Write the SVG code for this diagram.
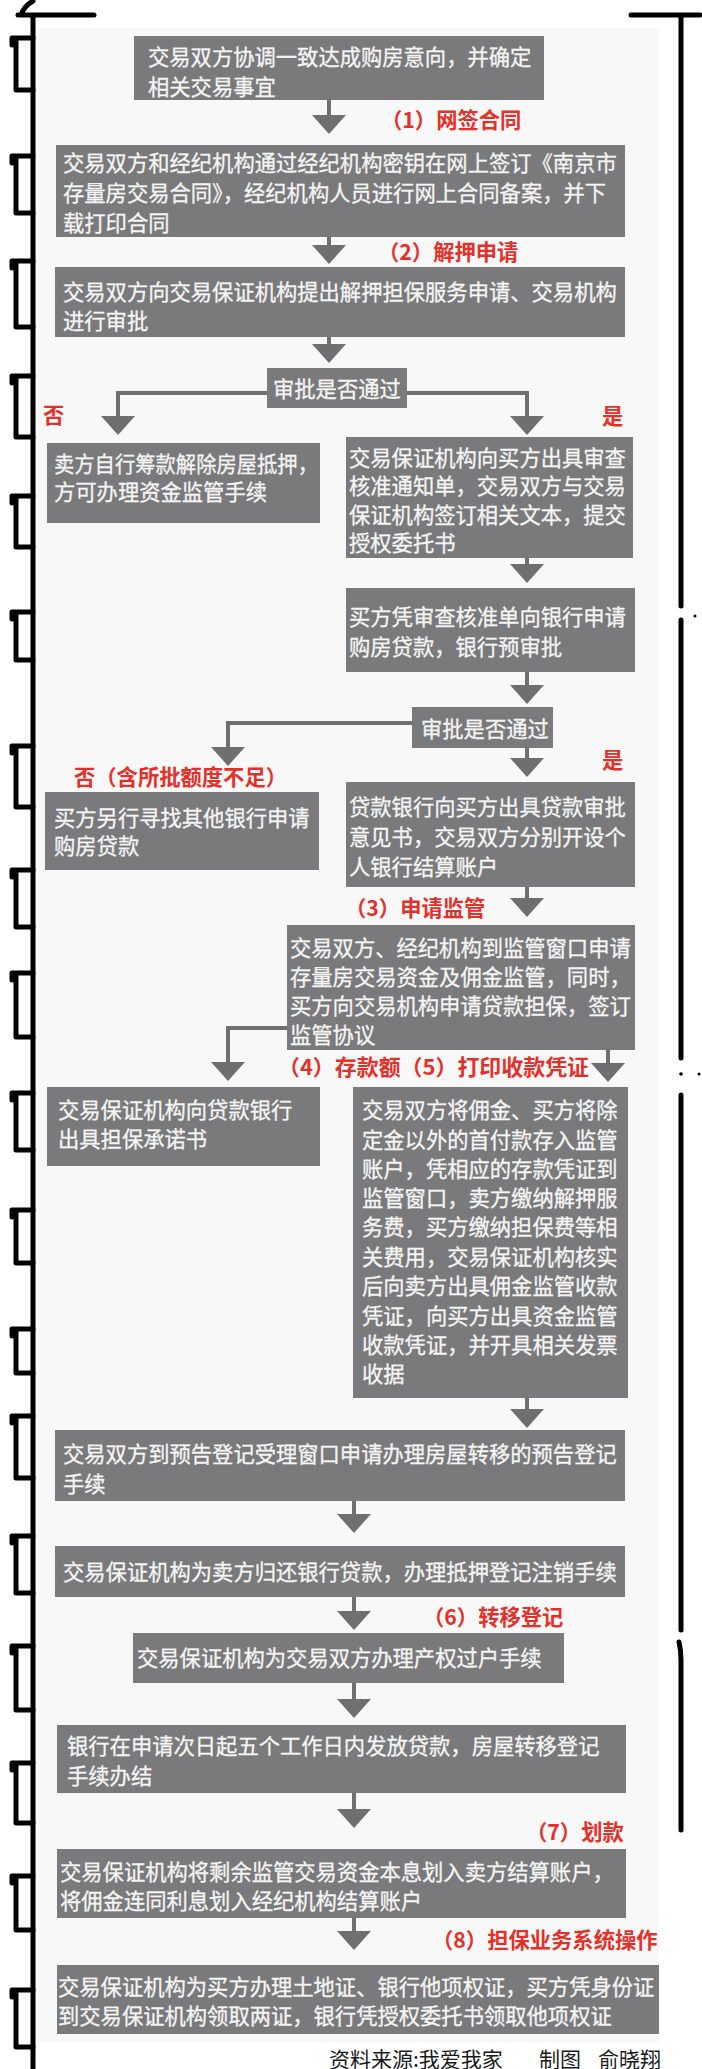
<svg xmlns="http://www.w3.org/2000/svg" width="702" height="2069" viewBox="0 0 702 2069">
  <style>
    .box { fill: #7a7a7c; }
    .t { font-family: "Noto Sans CJK SC", "Noto Sans", sans-serif; font-size: 21.3px; fill: #f5f5f5; stroke: #f5f5f5; stroke-width: 0.3; }
    .red { font-family: "Noto Sans CJK SC", "Noto Sans", sans-serif; font-size: 21.3px; font-weight: bold; fill: #e5302a; }
    .foot { font-family: "Noto Sans CJK SC", "Noto Sans", sans-serif; font-size: 21px; fill: #1a1a1a; }
    .conn { fill: none; stroke: #6f6f71; stroke-width: 4; marker-end: url(#head); }
    .ink { fill: none; stroke: #000; stroke-width: 5; stroke-linecap: round; stroke-linejoin: round; }
  </style>
  <defs>
    <marker id="head" viewBox="0 -17 19 34" markerWidth="19" markerHeight="34" refX="0" refY="0" orient="auto" markerUnits="userSpaceOnUse">
      <path d="M0,-17 L19,0 L0,17 Z" fill="#6f6f71"/>
    </marker>
  </defs>

  <rect width="702" height="2069" fill="#ffffff"/>
  <rect x="38" y="28" width="621" height="2014" fill="#f8f8f8"/>

  <!-- hand-drawn binding frame -->
  <g id="frame">
    <path class="ink" d="M33,16 V2069"/>
    <path class="ink" stroke-width="6" d="M18,15 H94 M21,15 Q24,6 33,1"/>
    <path class="ink" stroke-width="5" d="M631,15 H700"/>
    <path class="ink" stroke-width="5.5" d="M681,16 V606"/>
    <path class="ink" stroke-width="5.5" d="M681,620 V1058"/>
    <path class="ink" stroke-width="5.5" d="M681,1095 V1630"/>
    <path class="ink" stroke-width="5.5" d="M679,1642 Q681,1650 681,1660 V1830"/>
    <circle cx="681" cy="1074" r="1.8" fill="#000"/>
    <circle cx="699" cy="1074" r="1.5" fill="#000"/>
    <circle cx="695" cy="616" r="1.5" fill="#000"/>
    <g id="loops">
      <path class="ink" d="M33,38 H13 M16,38 V90 H33 M12,38 v7"/>
      <path class="ink" d="M33,156 H13 M16,156 V213 H33 M12,156 v7"/>
      <path class="ink" d="M33,261 H13 M16,261 V327 H33 M12,261 v7"/>
      <path class="ink" d="M33,376 H13 M16,376 V437 H33 M12,376 v7"/>
      <path class="ink" d="M33,496 H13 M16,496 V547 H33 M12,496 v7"/>
      <path class="ink" d="M33,612 H13 M16,612 V660 H33 M12,612 v7"/>
      <path class="ink" d="M33,746 H13 M16,746 V807 H33 M12,746 v7"/>
      <path class="ink" d="M33,870 H13 M16,870 V927 H33 M12,870 v7"/>
      <path class="ink" d="M33,973 H13 M16,973 V1037 H33 M12,973 v7"/>
      <path class="ink" d="M33,1093 H13 M16,1093 V1150 H33 M12,1093 v7"/>
      <path class="ink" d="M33,1210 H13 M16,1210 V1263 H33 M12,1210 v7"/>
      <path class="ink" d="M33,1329 H13 M16,1329 V1373 H33 M12,1329 v7"/>
      <path class="ink" d="M33,1416 H13 M16,1416 V1478 H33 M12,1416 v7"/>
      <path class="ink" d="M33,1536 H13 M16,1536 V1593 H33 M12,1536 v7"/>
      <path class="ink" d="M33,1646 H13 M16,1646 V1710 H33 M12,1646 v7"/>
      <path class="ink" d="M33,1763 H13 M16,1763 V1823 H33 M12,1763 v7"/>
      <path class="ink" d="M33,1876 H13 M16,1876 V1930 H33 M12,1876 v7"/>
      <path class="ink" d="M33,1990 H13 M16,1990 V2047 H33 M12,1990 v7"/>
    </g>
  </g>

  <!-- connectors -->
  <g id="connectors">
    <path class="conn" d="M329,100 V115"/>
    <path class="conn" d="M329,237 V245"/>
    <path class="conn" d="M329,337 V344"/>
    <path class="conn" d="M267,393 H118 V416"/>
    <path class="conn" d="M407,393 H527 V416"/>
    <path class="conn" d="M527,558 V564"/>
    <path class="conn" d="M527,672 V685"/>
    <path class="conn" d="M412,723 H228 V747"/>
    <path class="conn" d="M527,748 V758"/>
    <path class="conn" d="M527,887 V898"/>
    <path class="conn" d="M287,1028 H228 V1062"/>
    <path class="conn" d="M608,1050 V1063"/>
    <path class="conn" d="M527,1398 V1409"/>
    <path class="conn" d="M354,1501 V1514"/>
    <path class="conn" d="M354,1597 V1611"/>
    <path class="conn" d="M354,1683 V1699"/>
    <path class="conn" d="M354,1793 V1809"/>
    <path class="conn" d="M354,1918 V1931"/>
  </g>

  <!-- step labels -->
  <g id="labels">
    <text class="red" x="381" y="128">（1）网签合同</text>
    <text class="red" x="378" y="260">（2）解押申请</text>
    <text class="red" x="43" y="423">否</text>
    <text class="red" x="602" y="424">是</text>
    <text class="red" x="602" y="768">是</text>
    <text class="red" x="74" y="785">否（含所批额度不足）</text>
    <text class="red" x="345" y="916">（3）申请监管</text>
    <text class="red" x="278" y="1075" textLength="311" lengthAdjust="spacingAndGlyphs">（4）存款额（5）打印收款凭证</text>
    <text class="red" x="423" y="1625">（6）转移登记</text>
    <text class="red" x="526" y="1840">（7）划款</text>
    <text class="red" x="432" y="1948">（8）担保业务系统操作</text>
  </g>

  <g id="n1">
    <rect class="box" x="134" y="36" width="410" height="64"/>
    <text class="t" x="148" y="65">交易双方协调一致达成购房意向，并确定</text>
    <text class="t" x="148" y="95">相关交易事宜</text>
  </g>
  <g id="n2">
    <rect class="box" x="56" y="145" width="569" height="92"/>
    <text class="t" x="63" y="171">交易双方和经纪机构通过经纪机构密钥在网上签订《南京市</text>
    <text class="t" x="63" y="201">存量房交易合同》，经纪机构人员进行网上合同备案，并下</text>
    <text class="t" x="63" y="231">载打印合同</text>
  </g>
  <g id="n3">
    <rect class="box" x="55" y="267" width="570" height="70"/>
    <text class="t" x="63" y="300">交易双方向交易保证机构提出解押担保服务申请、交易机构</text>
    <text class="t" x="63" y="329">进行审批</text>
  </g>
  <g id="d1">
    <rect class="box" x="267" y="368" width="140" height="40"/>
    <text class="t" x="273" y="397">审批是否通过</text>
  </g>
  <g id="n4">
    <rect class="box" x="47" y="443" width="273" height="80"/>
    <text class="t" x="54" y="472" textLength="264" lengthAdjust="spacingAndGlyphs">卖方自行筹款解除房屋抵押，</text>
    <text class="t" x="54" y="500">方可办理资金监管手续</text>
  </g>
  <g id="n5">
    <rect class="box" x="346" y="437" width="287" height="121"/>
    <text class="t" x="349" y="466">交易保证机构向买方出具审查</text>
    <text class="t" x="349" y="494">核准通知单，交易双方与交易</text>
    <text class="t" x="349" y="523">保证机构签订相关文本，提交</text>
    <text class="t" x="349" y="551">授权委托书</text>
  </g>
  <g id="n6">
    <rect class="box" x="346" y="588" width="289" height="84"/>
    <text class="t" x="349" y="625">买方凭审查核准单向银行申请</text>
    <text class="t" x="349" y="655">购房贷款，银行预审批</text>
  </g>
  <g id="d2">
    <rect class="box" x="412" y="707" width="141" height="41"/>
    <text class="t" x="421" y="737">审批是否通过</text>
  </g>
  <g id="n7">
    <rect class="box" x="45" y="792" width="274" height="78"/>
    <text class="t" x="54" y="826">买方另行寻找其他银行申请</text>
    <text class="t" x="54" y="854">购房贷款</text>
  </g>
  <g id="n8">
    <rect class="box" x="346" y="782" width="289" height="105"/>
    <text class="t" x="349" y="815">贷款银行向买方出具贷款审批</text>
    <text class="t" x="349" y="845">意见书，交易双方分别开设个</text>
    <text class="t" x="349" y="875">人银行结算账户</text>
  </g>
  <g id="n9">
    <rect class="box" x="287" y="925" width="348" height="125"/>
    <text class="t" x="290" y="956">交易双方、经纪机构到监管窗口申请</text>
    <text class="t" x="290" y="985">存量房交易资金及佣金监管，同时，</text>
    <text class="t" x="290" y="1014">买方向交易机构申请贷款担保，签订</text>
    <text class="t" x="290" y="1043">监管协议</text>
  </g>
  <g id="n10">
    <rect class="box" x="47" y="1087" width="273" height="79"/>
    <text class="t" x="58" y="1118">交易保证机构向贷款银行</text>
    <text class="t" x="58" y="1147">出具担保承诺书</text>
  </g>
  <g id="n11">
    <rect class="box" x="353" y="1087" width="275" height="311"/>
    <text class="t" x="362" y="1118">交易双方将佣金、买方将除</text>
    <text class="t" x="362" y="1148">定金以外的首付款存入监管</text>
    <text class="t" x="362" y="1177">账户，凭相应的存款凭证到</text>
    <text class="t" x="362" y="1206">监管窗口，卖方缴纳解押服</text>
    <text class="t" x="362" y="1235">务费，买方缴纳担保费等相</text>
    <text class="t" x="362" y="1265">关费用，交易保证机构核实</text>
    <text class="t" x="362" y="1294">后向卖方出具佣金监管收款</text>
    <text class="t" x="362" y="1324">凭证，向买方出具资金监管</text>
    <text class="t" x="362" y="1353">收款凭证，并开具相关发票</text>
    <text class="t" x="362" y="1382">收据</text>
  </g>
  <g id="n12">
    <rect class="box" x="55" y="1430" width="570" height="71"/>
    <text class="t" x="63" y="1462">交易双方到预告登记受理窗口申请办理房屋转移的预告登记</text>
    <text class="t" x="63" y="1492">手续</text>
  </g>
  <g id="n13">
    <rect class="box" x="55" y="1546" width="570" height="51"/>
    <text class="t" x="63" y="1580">交易保证机构为卖方归还银行贷款，办理抵押登记注销手续</text>
  </g>
  <g id="n14">
    <rect class="box" x="133" y="1633" width="431" height="50"/>
    <text class="t" x="137" y="1666">交易保证机构为交易双方办理产权过户手续</text>
  </g>
  <g id="n15">
    <rect class="box" x="57" y="1725" width="569" height="68"/>
    <text class="t" x="67" y="1754">银行在申请次日起五个工作日内发放贷款，房屋转移登记</text>
    <text class="t" x="67" y="1784">手续办结</text>
  </g>
  <g id="n16">
    <rect class="box" x="57" y="1849" width="569" height="69"/>
    <text class="t" x="60" y="1880">交易保证机构将剩余监管交易资金本息划入卖方结算账户，</text>
    <text class="t" x="60" y="1909">将佣金连同利息划入经纪机构结算账户</text>
  </g>
  <g id="n17">
    <rect class="box" x="57" y="1965" width="602" height="69"/>
    <text class="t" x="58" y="1995">交易保证机构为买方办理土地证、银行他项权证，买方凭身份证</text>
    <text class="t" x="58" y="2024">到交易保证机构领取两证，银行凭授权委托书领取他项权证</text>
  </g>

  <g id="credit">
    <text class="foot" x="329" y="2067">资料来源:我爱我家</text>
    <text class="foot" x="539" y="2067">制图</text>
    <text class="foot" x="598" y="2067">俞晓翔</text>
  </g>
</svg>
